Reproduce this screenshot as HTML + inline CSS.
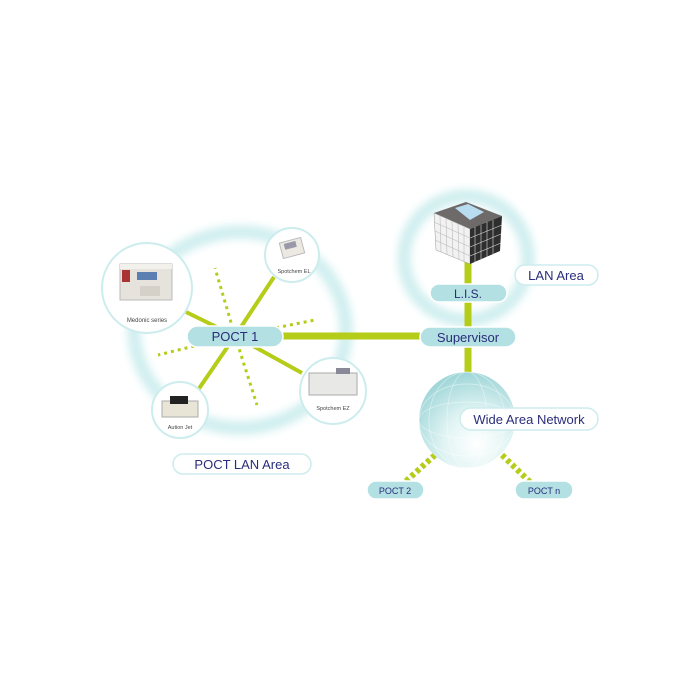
<!DOCTYPE html>
<html><head><style>
html,body{margin:0;padding:0;background:#fff;width:700px;height:700px;overflow:hidden}
svg text{font-family:"Liberation Sans",sans-serif}
</style></head><body>
<svg width="700" height="700" viewBox="0 0 700 700" xmlns="http://www.w3.org/2000/svg">
<defs>
<radialGradient id="glob" cx="0.6" cy="0.75" r="0.75">
<stop offset="0" stop-color="#ffffff"/><stop offset="0.45" stop-color="#e2f4f4"/><stop offset="1" stop-color="#9fd6d8"/>
</radialGradient>
<filter id="bl" x="-20%" y="-20%" width="140%" height="140%"><feGaussianBlur stdDeviation="4"/></filter>
</defs>
<!-- rings -->
<ellipse cx="240" cy="330" rx="106" ry="98" fill="none" stroke="#d2eff0" stroke-width="14" filter="url(#bl)"/>
<circle cx="466" cy="258" r="62" fill="none" stroke="#d2eff0" stroke-width="14" filter="url(#bl)"/>
<!-- spokes -->
<g stroke="#b5cc18" stroke-width="4">
<line x1="235" y1="336" x2="186" y2="312"/>
<line x1="235" y1="336" x2="274" y2="277"/>
<line x1="235" y1="336" x2="302" y2="373"/>
<line x1="235" y1="336" x2="198" y2="390"/>
</g>
<g stroke="#b5cc18" stroke-width="3" stroke-dasharray="3,4">
<line x1="235" y1="336" x2="215" y2="268"/>
<line x1="235" y1="336" x2="257" y2="405"/>
<line x1="235" y1="336" x2="158" y2="355"/>
<line x1="235" y1="336" x2="315" y2="320"/>
</g>
<line x1="280" y1="336" x2="425" y2="336" stroke="#b5cc18" stroke-width="7"/>
<line x1="468" y1="262" x2="468" y2="380" stroke="#b5cc18" stroke-width="7"/>
<g stroke="#b5cc18" stroke-width="6" stroke-dasharray="4,3">
<line x1="435" y1="455" x2="405" y2="482"/>
<line x1="502" y1="455" x2="530" y2="482"/>
</g>
<!-- globe -->
<circle cx="467" cy="420" r="48" fill="url(#glob)"/>
<g fill="none" stroke="#fff" stroke-opacity="0.5" stroke-width="0.7">
<ellipse cx="467" cy="420" rx="20" ry="48"/><ellipse cx="467" cy="420" rx="38" ry="48"/>
<ellipse cx="467" cy="420" rx="48" ry="18"/><ellipse cx="467" cy="420" rx="48" ry="36"/>
</g>
<!-- device circles -->
<g fill="#fff" stroke="#cdeced" stroke-width="2">
<circle cx="147" cy="288" r="45"/>
<circle cx="292" cy="255" r="27"/>
<circle cx="333" cy="391" r="33"/>
<circle cx="180" cy="410" r="28"/>
</g>
<!-- devices -->
<rect x="120" y="264" width="52" height="36" fill="#e6e3dc" stroke="#bbb"/>
<rect x="120" y="264" width="52" height="5" fill="#f3f1ec"/>
<rect x="137" y="272" width="20" height="8" fill="#5a7fb0"/>
<rect x="122" y="270" width="8" height="12" fill="#a33"/>
<rect x="140" y="286" width="20" height="10" fill="#d5d1c8"/>
<text x="147" y="322" font-size="6" text-anchor="middle" fill="#444">Medonic series</text>
<rect x="281" y="240" width="22" height="16" fill="#ece9e2" stroke="#bbb" transform="rotate(-15 292 248)"/>
<rect x="285" y="242" width="12" height="6" fill="#99a" transform="rotate(-15 292 248)"/>
<text x="294" y="273" font-size="5.5" text-anchor="middle" fill="#444">Spotchem EL</text>
<rect x="309" y="373" width="48" height="22" fill="#e8e8e6" stroke="#aaa"/>
<rect x="336" y="368" width="14" height="6" fill="#889"/>
<text x="333" y="410" font-size="5.5" text-anchor="middle" fill="#444">Spotchem EZ</text>
<rect x="162" y="401" width="36" height="16" fill="#e9e5d6" stroke="#aaa"/>
<rect x="170" y="396" width="18" height="8" fill="#222"/>
<text x="180" y="429" font-size="5.5" text-anchor="middle" fill="#444">Aution Jet</text>
<!-- building -->
<polygon points="434,213 466,202 502,216 470,229" fill="#6e6a6a"/>
<polygon points="455,208 468,204 484,212 470,220" fill="#b8dcf0"/>
<polygon points="434,213 470,229 470,264 436,250" fill="#f2f2f2" stroke="#999" stroke-width="0.5"/>
<polygon points="470,229 502,216 500,251 470,264" fill="#2e2e2e"/>
<g stroke="#bbb" stroke-width="0.6">
<line x1="440" y1="216" x2="441" y2="252"/><line x1="446" y1="219" x2="447" y2="255"/><line x1="452" y1="221" x2="453" y2="257"/><line x1="458" y1="224" x2="459" y2="259"/><line x1="464" y1="226" x2="464" y2="262"/>
<line x1="434" y1="222" x2="470" y2="238"/><line x1="435" y1="231" x2="470" y2="247"/><line x1="435" y1="240" x2="470" y2="256"/>
</g>
<g stroke="#ddd" stroke-width="0.6">
<line x1="475" y1="227" x2="475" y2="262"/><line x1="481" y1="225" x2="481" y2="259"/><line x1="487" y1="222" x2="487" y2="257"/><line x1="493" y1="220" x2="493" y2="255"/>
<line x1="470" y1="238" x2="502" y2="225"/><line x1="470" y1="247" x2="501" y2="234"/><line x1="470" y1="256" x2="501" y2="243"/>
</g>
<!-- pills -->
<g fill="#b3e0e2" stroke="#fff" stroke-width="1.5">
<rect x="187" y="326" width="96" height="21" rx="10.5"/>
<rect x="420" y="327" width="96" height="20" rx="10"/>
<rect x="430" y="284" width="77" height="18" rx="9"/>
<rect x="367" y="481" width="57" height="18" rx="9"/>
<rect x="515" y="481" width="58" height="18" rx="9"/>
</g>
<g fill="#fff" stroke="#cdeced" stroke-width="1.5">
<rect x="515" y="265" width="83" height="20" rx="10"/>
<rect x="460" y="408" width="138" height="22" rx="11"/>
<rect x="173" y="454" width="138" height="20" rx="10"/>
</g>
<g fill="#2a2d7a" text-anchor="middle" font-size="13">
<text x="235" y="341">POCT 1</text>
<text x="468" y="342">Supervisor</text>
<text x="468" y="298" font-size="12">L.I.S.</text>
<text x="556" y="280">LAN Area</text>
<text x="529" y="424">Wide Area Network</text>
<text x="242" y="469">POCT LAN Area</text>
<text x="395" y="494" font-size="9">POCT 2</text>
<text x="544" y="494" font-size="9">POCT n</text>
</g>
</svg>
</body></html>
